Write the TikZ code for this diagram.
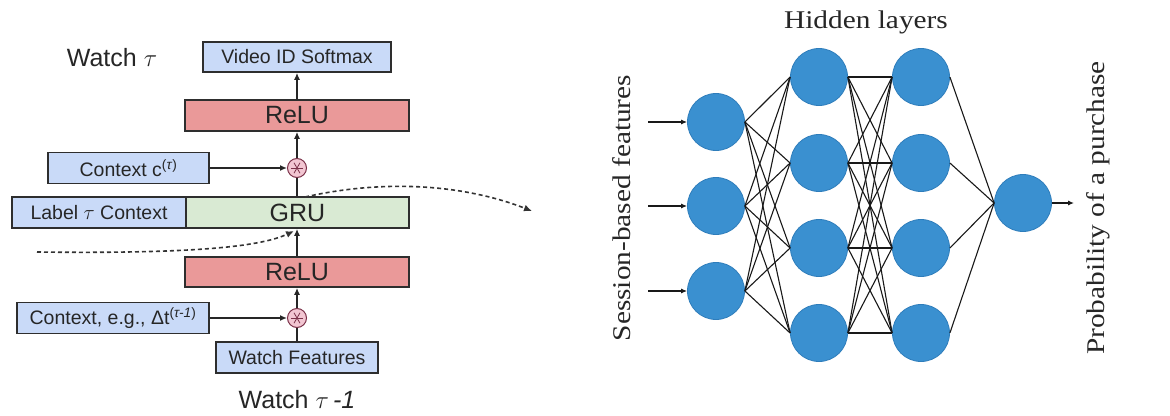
\documentclass[tikz,border=0pt]{standalone}
\usepackage{fontspec}
\usepackage{graphicx}
\setmainfont{Liberation Serif}
\newfontfamily\lsans{Liberation Sans}
\usetikzlibrary{arrows.meta}
\definecolor{boxblue}{HTML}{C9DAF8}
\definecolor{boxred}{HTML}{EA9999}
\definecolor{boxgreen}{HTML}{D9EAD3}
\definecolor{opfill}{HTML}{F2C6D2}
\definecolor{opline}{HTML}{7A3048}
\definecolor{nnblue}{HTML}{3A90D0}
\definecolor{nnedge}{HTML}{2E7DBB}
\definecolor{edgegray}{HTML}{2E2E2E}
\begin{document}
\begin{tikzpicture}[x=1pt,y=-1pt,
  bx/.style={draw=edgegray, line width=1.7pt, inner sep=0pt, font=\lsans\fontsize{19.5}{21}\selectfont, text=black!85},
  bigbx/.style={bx, font=\lsans\fontsize{25}{27}\selectfont},
  opn/.style={circle, draw=opline, fill=opfill, line width=1pt, minimum size=19pt, inner sep=0pt},
  arr/.style={draw=black!85, line width=1.4pt, -{Latex[length=7pt,width=6pt]}},
  ln/.style={draw=black!85, line width=1.4pt},
  dsh/.style={draw=black!80, line width=1.6pt, dash pattern=on 4pt off 3pt},
  neuron/.style={circle, fill=nnblue, draw=nnedge, line width=0.8pt, minimum size=57pt, inner sep=0pt},
  syn/.style={draw=black!90, line width=1.1pt},
  lbl/.style={font=\lsans\fontsize{25}{27}\selectfont, text=black!85, inner sep=0pt},
  serif/.style={font=\fontsize{25.5}{28}\selectfont, inner sep=0pt, text=black!85}
]
\useasboundingbox (0,0) rectangle (1170,415);
\fill[white] (0,0) rectangle (1170,415);

% ---------- left diagram ----------
\node[lbl] (wt) at (112,58) {Watch $\tau$};
\node[bx, fill=boxblue, minimum width=188pt, minimum height=30pt] (soft) at (297,57) {Video ID Softmax};
\node[bigbx, fill=boxred, minimum width=224pt, minimum height=31pt] (relu1) at (297,115.5) {ReLU};
\node[bx, fill=boxblue, minimum width=161pt, minimum height=31pt] (ctx1) at (128.5,168) {Context c\textsuperscript{(\textit{τ})}};
\node[opn] (op1) at (297,168) {};
\node[bx, fill=boxblue, minimum width=174pt, minimum height=31pt] (lab) at (99,212.5) {Label $\tau$ Context};
\node[bigbx, fill=boxgreen, minimum width=223pt, minimum height=31pt] (gru) at (297.5,212.5) {GRU};
\node[bigbx, fill=boxred, minimum width=224pt, minimum height=30pt] (relu2) at (297,272) {ReLU};
\node[bx, fill=boxblue, minimum width=192pt, minimum height=31pt] (ctx2) at (113,318) {Context, e.g., Δt\textsuperscript{(\textit{τ-1})}};
\node[opn] (op2) at (297,318) {};
\node[bx, fill=boxblue, minimum width=162pt, minimum height=31pt] (wf) at (297,357.5) {Watch Features};
\node[lbl] (wt1) at (297,400) {Watch $\tau$\,\textit{-1}};

\foreach \o in {op1,op2}{
  \foreach \a in {0,60,120}{
    \draw[opline, line width=0.8pt] (\o.center) ++(\a:6) -- ++(\a+180:12);
  }
}

\draw[arr] (relu1.north) -- (soft.south);
\draw[arr] (op1.north) -- (relu1.south);
\draw[ln] (gru.north -| op1) -- (op1.south);
\draw[arr] (ctx1.east) -- (op1.west);
\draw[arr] (relu2.north) -- (gru.south -| relu2);
\draw[arr] (op2.north) -- (relu2.south);
\draw[ln] (wf.north) -- (op2.south);
\draw[arr] (ctx2.east) -- (op2.west);

\coordinate (dtop) at (305,197);
\coordinate (dend) at (532,211);
\coordinate (dlow) at (37,252);
\coordinate (dlowend) at (294,231);
\draw[dsh, -{Latex[length=8pt,width=7pt]}] (dtop) .. controls (380,180) and (460,183) .. (dend);
\draw[dsh, -{Latex[length=8pt,width=7pt]}] (dlow) .. controls (200,254) and (262,246) .. (dlowend);

% ---------- right diagram ----------
\node[serif] (hl) at (866,22) {\scalebox{1.15}[1]{Hidden layers}};
\node[serif, rotate=90] (sbf) at (622,208) {\scalebox{1.15}[1]{Session-based features}};
\node[serif, rotate=90] (pop) at (1098,208) {\scalebox{1.15}[1]{Probability of a purchase}};

\foreach \i/\y in {1/122,2/206,3/291}{
  \node[neuron] (i\i) at (716,\y) {};
  \coordinate (in\i) at (648,\y);
}
\foreach \i/\y in {1/77,2/163,3/248,4/333}{
  \node[neuron] (a\i) at (819,\y) {};
  \node[neuron] (b\i) at (921,\y) {};
}
\node[neuron] (o) at (1023,203) {};
\coordinate (out) at (1074,203);

\foreach \i in {1,2,3}{
  \draw[syn, -{Latex[length=6pt,width=5pt]}] (in\i) -- (i\i.west);
  \foreach \j in {1,...,4}{
    \draw[syn] (i\i.east) -- (a\j.west);
  }
}
\foreach \i in {1,...,4}{
  \foreach \j in {1,...,4}{
    \draw[syn] (a\i.east) -- (b\j.west);
  }
  \draw[syn] (b\i.east) -- (o.west);
}
\draw[syn, -{Latex[length=6pt,width=5pt]}] (o.east) -- (out);
\end{tikzpicture}
\end{document}
